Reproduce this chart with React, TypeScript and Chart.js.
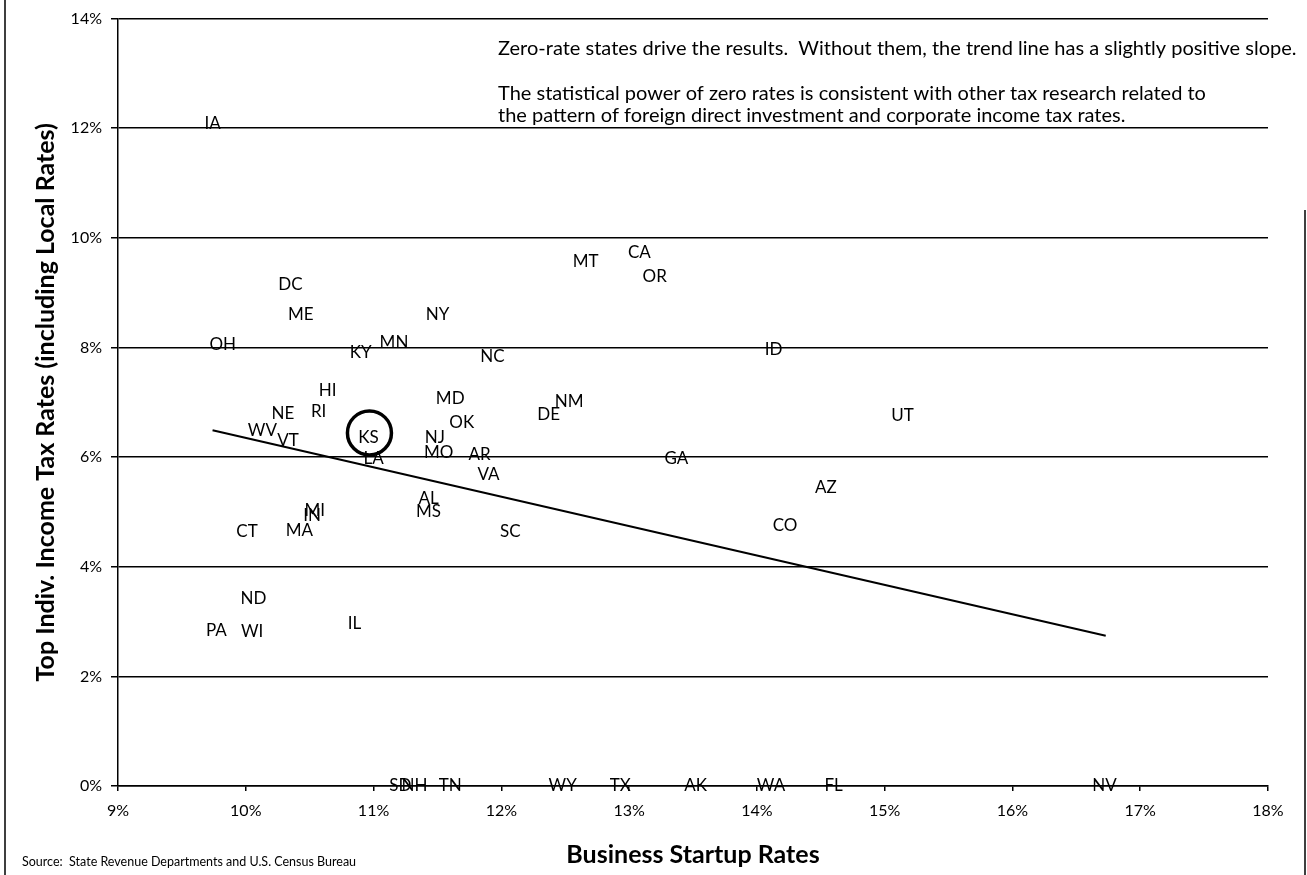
import React, { useEffect, useRef } from 'react';
import { Chart, registerables } from 'chart.js';

Chart.register(...registerables);

// ---- Data ----
const states = [
  'IA', 'DC', 'ME', 'NY', 'MT', 'CA', 'OR', 'OH', 'KY', 'MN', 'NC', 'ID',
  'HI', 'RI', 'NE', 'WV', 'VT', 'KS', 'LA', 'MD', 'OK', 'NJ', 'MO', 'AR',
  'VA', 'DE', 'NM', 'UT', 'GA', 'AZ', 'CO', 'AL', 'MS', 'MI', 'IN', 'MA',
  'CT', 'SC', 'ND', 'PA', 'WI', 'IL',
  'SD', 'NH', 'TN', 'WY', 'TX', 'AK', 'WA', 'FL', 'NV',
];

const startupRates = [
  9.74, 10.35, 10.43, 11.5, 12.66, 13.08, 13.2, 9.82, 10.9, 11.16, 11.93, 14.13,
  10.64, 10.57, 10.29, 10.13, 10.33, 10.96, 11.0, 11.6, 11.69, 11.48, 11.51, 11.83,
  11.9, 12.37, 12.53, 15.14, 13.37, 14.54, 14.22, 11.43, 11.43, 10.54, 10.52, 10.42,
  10.01, 12.07, 10.06, 9.77, 10.05, 10.85,
  11.21, 11.32, 11.6, 12.48, 12.93, 13.52, 14.11, 14.6, 16.72,
];

const taxRates = [
  12.09, 9.15, 8.6, 8.6, 9.56, 9.73, 9.29, 8.05, 7.91, 8.09, 7.84, 7.97,
  7.22, 6.84, 6.8, 6.49, 6.31, 6.35, 5.98, 7.07, 6.64, 6.35, 6.09, 6.05,
  5.69, 6.78, 7.02, 6.75, 5.98, 5.45, 4.76, 5.24, 5.0, 5.02, 4.93, 4.67,
  4.64, 4.64, 3.42, 2.84, 2.82, 2.96,
  0, 0, 0, 0, 0, 0, 0, 0, 0,
];

const trendX = [9.74, 16.73];
const trendY = [6.49, 2.74];

const xTickValues = [9, 10, 11, 12, 13, 14, 15, 16, 17, 18];
const yTickValues = [0, 2, 4, 6, 8, 10, 12, 14];

const circledState = 'KS';

const notes = [
  'Zero-rate states drive the results.  Without them, the trend line has a slightly positive slope.',
  'The statistical power of zero rates is consistent with other tax research related to',
  'the pattern of foreign direct investment and corporate income tax rates.',
];
const sourceNote = 'Source:  State Revenue Departments and U.S. Census Bureau';
const xTitle = 'Business Startup Rates';
const yTitle = 'Top Indiv. Income Tax Rates (including Local Rates)';

const FONT = 'Lato, "Open Sans", sans-serif';

const overlayPlugin = {
  id: 'overlay',
  afterDatasetsDraw(chart: any) {
    const ctx = chart.ctx;
    const meta = chart.getDatasetMeta(0);
    ctx.save();
    ctx.fillStyle = '#000';
    ctx.strokeStyle = '#000';
    ctx.font = `17px ${FONT}`;
    ctx.textAlign = 'center';
    ctx.textBaseline = 'middle';
    meta.data.forEach((el: any, i: number) => {
      ctx.fillText(states[i], el.x, el.y);
    });
    const idx = states.indexOf(circledState);
    if (idx >= 0) {
      const el = meta.data[idx];
      ctx.beginPath();
      ctx.lineWidth = 3.5;
      ctx.arc(el.x + 1, el.y - 5, 22, 0, Math.PI * 2);
      ctx.stroke();
    }
    // notes
    const area = chart.chartArea;
    ctx.textAlign = 'left';
    ctx.font = `20px ${FONT}`;
    ctx.fillText(notes[0], area.left + 380, area.top + 30);
    ctx.fillText(notes[1], area.left + 380, area.top + 75);
    ctx.fillText(notes[2], area.left + 380, area.top + 97);
    // source
    ctx.font = `12.5px ${FONT}`;
    ctx.fillText(sourceNote, 22, chart.height - 13);
    // frame
    ctx.lineWidth = 1.5;
    ctx.beginPath();
    ctx.moveTo(5, 0);
    ctx.lineTo(5, chart.height);
    ctx.moveTo(chart.width - 2, 210);
    ctx.lineTo(chart.width - 2, chart.height);
    ctx.stroke();
    ctx.restore();
  },
};

export default function App() {
  const canvasRef = useRef<HTMLCanvasElement | null>(null);

  useEffect(() => {
    if (!canvasRef.current) return;
    const pts = states.map((s, i) => ({ x: startupRates[i], y: taxRates[i] }));
    const trend = trendX.map((x, i) => ({ x, y: trendY[i] }));
    const chart = new Chart(canvasRef.current, {
      type: 'scatter',
      data: {
        datasets: [
          {
            label: 'States',
            data: pts,
            pointRadius: 0,
            pointHoverRadius: 0,
            backgroundColor: 'transparent',
            borderColor: 'transparent',
          },
          {
            label: 'Trend',
            data: trend,
            showLine: true,
            borderColor: '#000',
            borderWidth: 2,
            pointRadius: 0,
            pointHoverRadius: 0,
          } as any,
        ],
      },
      options: {
        animation: false,
        responsive: false,
        devicePixelRatio: 1,
        layout: { padding: { left: 0, right: 39, top: 16, bottom: 0 } },
        plugins: {
          legend: { display: false },
          tooltip: { enabled: false },
        },
        scales: {
          x: {
            type: 'linear',
            min: 9,
            max: 18,
            afterBuildTicks: (scale: any) => {
              scale.ticks = xTickValues.map((v) => ({ value: v }));
            },
            afterFit: (scale: any) => {
              scale.height = 89;
            },
            ticks: {
              color: '#000',
              font: { family: FONT, size: 16 },
              padding: 10,
              callback: (v: any) => `${v}%`,
            },
            grid: {
              drawOnChartArea: false,
              drawTicks: true,
              tickLength: 5,
              color: '#000',
              lineWidth: 1.5,
            },
            border: { color: '#000', width: 1.5 },
            title: {
              display: true,
              text: xTitle,
              color: '#000',
              font: { family: FONT, size: 25, weight: 'bold' },
              padding: { top: 0, bottom: 5 },
            },
          },
          y: {
            type: 'linear',
            min: 0,
            max: 14,
            afterBuildTicks: (scale: any) => {
              scale.ticks = yTickValues.map((v) => ({ value: v }));
            },
            afterFit: (scale: any) => {
              scale.width = 118;
            },
            ticks: {
              color: '#000',
              font: { family: FONT, size: 16 },
              padding: 9,
              callback: (v: any) => `${v}%`,
            },
            grid: {
              color: '#000',
              lineWidth: 1.5,
              tickLength: 7,
            },
            border: { color: '#000', width: 1.5 },
            title: {
              display: true,
              text: yTitle,
              color: '#000',
              font: { family: FONT, size: 25, weight: 'bold' },
              padding: { top: 31, bottom: 0 },
            },
          },
        },
      },
      plugins: [overlayPlugin],
    });
    return () => chart.destroy();
  }, []);

  return (
    <div style={{ position: 'absolute', left: 0, top: 0, width: 1307, height: 875, background: '#fff' }}>
      <canvas ref={canvasRef} width={1307} height={875} style={{ display: 'block' }} />
    </div>
  );
}
